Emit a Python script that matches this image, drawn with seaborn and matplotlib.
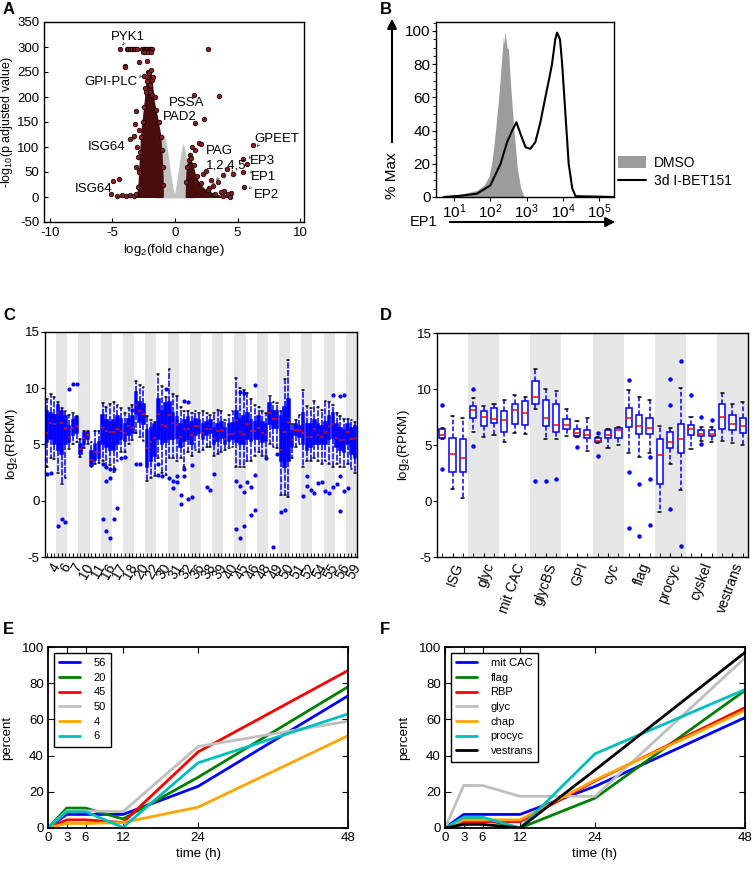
import numpy as np
import pandas as pd
import matplotlib
matplotlib.use("Agg")
import matplotlib.pyplot as plt
import seaborn as sns
from matplotlib.patches import Patch
from matplotlib.lines import Line2D
from matplotlib.ticker import MultipleLocator, LogLocator, NullFormatter

# ======================= DATA =======================
# ---- Panel A (volcano) ----
A_gray_x = [-1.6, -1.5, -1.35, -1.15, -0.95, -0.75, -0.55, -0.35, -0.15, 0.0, 0.15, 0.3, 0.5, 0.65, 0.8, 1.0, 1.2, 1.45, 1.6]
A_gray_y = [-3, 5, 70, 115, 127, 118, 92, 55, 22, 5, 25, 50, 85, 105, 100, 70, 30, 5, -3]
A_left_x = [-4.6, -3.5, -3.0, -2.9, -2.8, -2.7, -2.55, -2.4, -2.3, -2.15, -1.9, -1.75, -1.6, -1.35, -1.1, -0.97, -0.9, -0.88, -0.9]
A_left_y = [-2, 2, 6, 30, 80, 125, 160, 195, 225, 250, 250, 225, 190, 160, 125, 80, 40, 5, -2]
A_right_x = [0.85, 0.88, 0.95, 1.1, 1.3, 1.5, 1.7, 2.0, 2.4, 3.0, 3.6, 4.2, 4.3]
A_right_y = [-2, 30, 62, 74, 76, 62, 42, 27, 16, 8, 3, 1, -2]
A_pts_x = [-4.35, -3.85, -3.75, -3.6, -3.45, -3.3, -3.2, -3.05, -2.6, -2.5, -2.4, -2.3, -2.2, -2.1, -2.0, -1.9, -1.8,
           -2.55, -2.35, -2.15, -1.95, 2.65,
           -4.0, -3.95, -2.9, -2.25, -2.5, -2.15, -2.05, -1.95, -2.2, -2.0, -2.35, -1.85, -2.0, -1.8,
           -3.1, -3.15, -3.6, -3.25, -2.9, -3.0, -2.95, -3.1, -2.85, -4.5, -4.95, -5.1, -4.6, -4.2, -3.9, -3.6, -3.3, -3.1,
           1.55, 3.5, 1.6, 2.3, 1.9, 2.05, 1.6, 1.2, 1.4,
           6.25, 5.4, 5.75, 5.4, 5.5, 4.6, 4.15, 3.4, 3.0, 2.25, 2.5, 3.8, 3.9, 4.5, 4.2, 3.7, 2.7, 2.9,
           -2.95, -2.85, -2.78, -2.68, -2.58, -2.45, -2.33, -2.22, -1.72, -1.62, -1.48, -1.28, -1.12, -1.02, -0.96, -0.92,
           0.9, 0.96, 1.12, 1.32, 1.52, 1.76, 2.1, 2.6, 3.2, 3.8, 4.4]
A_pts_y = [297, 297, 297, 297, 297, 297, 297, 297, 297, 297, 297, 297, 297, 297, 297, 297, 297,
           291, 291, 291, 291, 297,
           262, 260, 271, 273, 243, 250, 248, 255, 232, 225, 218, 235, 210, 205,
           173, 147, 117, 122, 135, 100, 80, 60, 55, 37, 33, 7, 3, 4, 2, 5, 3, 6,
           205, 203, 148, 157, 109, 107, 95, 85, 100,
           105, 76, 67, 50, 20, 47, 57, 30, 23, 47, 52, 45, 12, 8, 6, 10, 18, 35,
           20, 50, 90, 120, 150, 180, 210, 240, 240, 200, 175, 150, 120, 95, 60, 25,
           30, 60, 75, 78, 65, 42, 28, 15, 7, 3, 1]
A_labels = ['PYK1', 'GPI-PLC', 'PSSA', 'PAD2', 'ISG64', 'ISG64', 'GPEET', 'PAG', '1,2,4,5', 'EP3', 'EP1', 'EP2']
A_label_x = [-3.78, -5.07, 0.91, 0.37, -5.46, -6.49, 8.12, 3.55, 4.07, 6.95, 7.03, 7.34]
A_label_y = [320, 230, 188, 160, 100, 17, 117, 91, 62, 73, 40, 5]
A_arrow_x = [-4.2, -2.85, -3.45, -4.45, 1.45, 6.55, 5.9, 6.0, 5.9, 3.3, 3.85, 2.95, 4.5]
A_arrow_y = [303, 238, 112, 32, 143, 100, 76, 47, 15, 33, 42, 24, 47]

# ---- Panel B (flow histogram) ----
B_dmso_log10 = [0.55, 0.67, 1.17, 1.63, 1.82, 1.96, 2.05, 2.14, 2.23, 2.30, 2.33, 2.36, 2.38, 2.40, 2.43, 2.46, 2.50, 2.55, 2.65, 2.74, 2.83, 2.92, 3.0]
B_dmso_y = [0, 0.5, 1.6, 4, 7, 12, 22, 40, 60, 80, 88, 97, 92, 100, 95, 90, 89, 70, 40, 18, 6, 0.5, 0]
B_ibet_log10 = [0.72, 1.2, 1.63, 2.00, 2.28, 2.46, 2.60, 2.72, 2.83, 2.97, 3.10, 3.24, 3.38, 3.47, 3.61, 3.70, 3.79, 3.84, 3.92, 3.98, 4.07, 4.16, 4.26, 4.35, 5.42]
B_ibet_y = [0, 0.8, 2, 7, 20, 33, 40, 45, 38, 30, 29, 33, 45, 55, 70, 80, 95, 99, 95, 80, 50, 20, 5, 0.5, 0]
B_edge_log10 = 0.51
B_edge_h = 76
B_labels = ['DMSO', '3d I-BET151']

# ---- Panel C (boxplots by cluster, 3 time points each) ----
C_groups = ['4', '6', '7', '10', '11', '16', '17', '18', '20', '22', '30', '31', '32', '36', '38', '39',
            '40', '45', '46', '48', '49', '50', '51', '52', '54', '55', '56', '59']
C_med = [6.0, 6.9, 6.8, 7.8, 6.9, 6.5, 5.7, 6.5, 6.6, 4.6, 5.6, 5.8, 3.6, 4.3, 4.3, 6.5, 6.2, 6.1,
         6.1, 6.4, 6.2, 6.0, 6.6, 6.5, 8.5, 8.0, 7.7, 4.7, 5.2, 5.6, 7.7, 6.7, 6.6, 7.6, 6.9, 6.7,
         5.7, 6.4, 6.4, 5.8, 6.6, 6.6, 6.0, 6.4, 6.4, 5.5, 6.2, 6.3, 5.5, 5.9, 5.9, 7.2, 6.1, 5.9,
         6.8, 6.2, 6.2, 6.5, 6.0, 5.8, 7.8, 7.3, 7.3, 4.5, 6.1, 7.0, 5.4, 6.3, 6.3, 6.0, 5.7, 5.7,
         6.4, 5.8, 5.7, 6.1, 6.6, 6.8, 5.6, 5.4, 5.4, 6.1, 5.5, 5.6]
C_q1 = [5.2, 5.5, 5.0, 4.5, 4.2, 5.0, 5.2, 5.8, 6.0, 4.2, 5.0, 5.5, 3.1, 3.6, 3.8, 5.0, 4.8, 4.5,
        4.5, 5.0, 5.5, 5.3, 5.8, 6.0, 7.7, 7.0, 6.8, 3.0, 3.5, 4.0, 5.5, 5.0, 5.2, 5.5, 5.5, 5.6,
        4.8, 5.3, 5.5, 5.0, 5.8, 6.0, 5.5, 5.8, 6.0, 5.0, 5.3, 5.6, 5.0, 5.3, 5.5, 5.2, 5.0, 5.0,
        5.5, 5.3, 5.5, 5.5, 5.2, 5.3, 6.8, 6.5, 6.5, 3.5, 3.0, 3.5, 4.8, 5.8, 5.7, 5.0, 4.5, 4.8,
        5.0, 5.0, 5.0, 5.0, 5.5, 5.6, 4.8, 4.5, 4.3, 5.0, 4.2, 3.8]
C_q3 = [8.0, 7.8, 7.6, 8.5, 8.0, 7.5, 6.6, 7.2, 7.4, 5.0, 6.0, 6.1, 4.4, 5.0, 5.2, 7.6, 7.2, 7.0,
        7.2, 7.5, 7.3, 6.8, 7.3, 7.5, 9.7, 8.8, 8.6, 6.3, 6.5, 6.8, 9.0, 8.0, 8.7, 8.8, 7.8, 7.4,
        6.8, 7.2, 7.4, 7.0, 7.3, 7.2, 6.8, 7.0, 7.2, 6.5, 6.8, 7.0, 6.5, 6.8, 6.9, 8.0, 7.3, 7.5,
        7.8, 7.2, 7.0, 7.5, 7.0, 6.8, 8.7, 8.0, 8.0, 7.5, 8.3, 9.0, 6.2, 6.8, 6.6, 7.8, 6.8, 6.8,
        7.2, 6.8, 6.6, 7.0, 7.5, 7.8, 6.8, 6.5, 6.3, 6.8, 6.5, 6.6]
C_lo = [3.0, 3.8, 3.7, 2.5, 1.5, 2.0, 4.6, 5.0, 5.2, 3.9, 4.7, 5.0, 3.0, 3.3, 3.4, 3.5, 3.0, 3.2,
        2.6, 3.5, 4.3, 4.3, 5.0, 5.4, 6.0, 5.7, 5.3, 1.8, 2.0, 2.2, 3.8, 2.5, 2.3, 3.8, 3.8, 3.5,
        3.8, 3.0, 4.3, 4.0, 4.5, 4.3, 4.5, 4.8, 4.8, 4.0, 4.2, 4.3, 4.5, 4.7, 4.8, 3.0, 3.0, 3.0,
        3.5, 3.5, 4.0, 4.3, 4.0, 4.0, 5.0, 4.8, 4.7, 0.5, 0.5, 0.3, 3.8, 4.8, 5.0, 3.0, 3.5, 3.5,
        3.8, 3.5, 3.3, 3.5, 3.3, 3.0, 3.3, 3.0, 3.0, 3.3, 2.8, 2.5]
C_hi = [9.0, 9.5, 9.2, 8.8, 8.2, 8.0, 7.6, 7.8, 7.5, 5.5, 6.2, 6.2, 5.2, 6.2, 6.2, 8.7, 8.3, 8.6,
        8.8, 8.5, 8.2, 7.8, 8.2, 8.5, 10.6, 10.3, 10.1, 7.5, 7.2, 7.0, 11.3, 10.2, 9.2, 11.7, 9.5, 9.3,
        8.3, 8.0, 8.0, 7.8, 8.0, 7.8, 8.0, 7.8, 7.6, 7.8, 8.1, 8.0, 7.2, 7.6, 8.0, 10.9, 10.0, 9.8,
        9.6, 9.0, 8.5, 8.3, 8.0, 7.8, 9.3, 8.8, 8.7, 8.0, 10.8, 12.5, 6.8, 7.2, 7.6, 9.8, 8.4, 8.2,
        8.9, 8.3, 8.1, 8.9, 8.8, 8.5, 7.8, 7.5, 7.3, 7.3, 7.2, 7.0]
C_out_idx = [0, 1, 3, 4, 5, 6, 7, 8, 15, 15, 16, 16, 16, 17, 17, 17, 18, 18, 19, 20, 21, 23,
             24, 25, 30, 30, 31, 32, 33, 34, 34, 35, 35, 36, 36, 37, 37, 38, 37, 38, 39, 39, 43, 44, 45,
             51, 51, 52, 52, 53, 53, 53, 52, 54, 55, 55, 56, 56, 56, 59, 61, 62, 63, 64,
             69, 70, 71, 70, 72, 73, 74, 75, 76, 77, 77, 78, 79, 79, 79, 80, 80, 81]
C_out_val = [2.4, 2.5, -2.2, -1.6, -1.9, 9.9, 10.4, 10.4, 3.3, -1.6, 1.8, -2.7, 3.0, 2.0, -3.3, 2.8, -1.6, 2.8, -0.6, 3.8, 3.9, 8.1,
             3.3, 3.3, 3.3, 2.3, 2.2, 9.9, 2.0, 1.8, 1.1, 1.7, 2.2, 0.5, -0.3, 2.8, 2.2, 0.2, 8.9, 8.8, 3.2, 0.3, 1.2, 1.0, 2.4,
             1.8, -2.5, 1.3, -3.3, 0.8, -2.2, 9.6, 9.7, 1.7, 1.2, -1.3, -0.8, 10.3, 2.3, 3.8, -4.1, 4.2, -1.0, -0.8,
             0.4, 1.3, 1.0, 2.2, 0.7, 1.6, 1.7, 0.9, 0.7, 1.2, 9.4, 1.5, -0.9, 2.2, 9.3, 9.4, 0.9, 1.1]

# ---- Panel D (boxplots by functional category) ----
D_groups = ['ISG', 'glyc', 'mit CAC', 'glycBS', 'GPI', 'cyc', 'flag', 'procyc', 'cyskel', 'vestrans']
D_med = [5.9, 4.2, 3.8, 8.1, 7.5, 7.3, 7.2, 8.1, 7.9, 9.3, 7.4, 6.8, 6.8, 6.1, 5.9,
         5.4, 5.9, 6.3, 7.4, 6.7, 6.5, 4.1, 5.3, 5.5, 6.4, 6.0, 6.0, 7.5, 6.9, 6.7]
D_q1 = [5.6, 2.6, 2.6, 7.4, 6.7, 7.0, 6.2, 6.9, 6.8, 8.7, 6.7, 6.2, 6.4, 5.8, 5.6,
        5.3, 5.6, 5.6, 6.6, 6.0, 6.0, 1.5, 4.7, 4.3, 5.9, 5.8, 5.8, 6.4, 6.3, 6.1]
D_q3 = [6.4, 5.6, 5.5, 8.5, 8.0, 8.3, 8.0, 8.7, 8.9, 10.7, 9.0, 8.7, 7.3, 6.4, 6.3,
        5.6, 6.3, 6.5, 8.3, 7.7, 7.4, 5.5, 6.2, 6.9, 6.8, 6.3, 6.3, 8.7, 7.7, 7.4]
D_lo = [5.5, 1.1, 0.3, 6.2, 5.7, 5.9, 5.3, 6.1, 6.0, 8.2, 5.5, 5.5, 5.8, 5.7, 4.5,
        5.2, 4.7, 5.0, 4.3, 3.9, 4.3, -1.0, 3.3, 1.0, 4.6, 5.4, 5.3, 5.4, 5.2, 5.0]
D_hi = [6.5, 7.6, 7.4, 9.2, 8.5, 8.7, 9.0, 9.5, 9.3, 11.8, 10.0, 9.8, 8.2, 7.1, 7.4,
        5.7, 6.4, 6.6, 9.9, 9.3, 9.0, 6.7, 6.5, 10.1, 7.5, 6.6, 6.6, 9.6, 8.7, 8.8]
D_out_idx = [0, 0, 3, 3, 9, 10, 11, 13, 15, 15, 18, 18, 18, 19, 19, 20, 20, 20,
             22, 22, 22, 23, 23, 24, 25, 25, 26]
D_out_val = [8.6, 2.9, 10.0, 4.9, 1.8, 1.8, 2.0, 4.8, 6.1, 4.0, 10.8, 2.6, -2.4, 1.5, -3.1, 3.9, 2.0, -2.1,
             10.9, 8.6, -0.7, 12.5, -4.0, 9.5, 7.5, 5.1, 7.2]

# ---- Panels E, F (time courses) ----
times = [0, 3, 6, 12, 24, 48]
E_names = ['56', '20', '45', '50', '4', '6']
E_56 = [0, 7.5, 7.5, 7.5, 23, 73]
E_20 = [0, 11, 11, 5, 28, 78]
E_45 = [0, 4.5, 4.5, 3, 42, 87]
E_50 = [0, 9.5, 9.5, 9, 45, 59]
E_4 = [0, 2.5, 2.5, 3, 11.5, 51]
E_6 = [0, 9, 9, 0.3, 36, 63]
F_names = ['mit CAC', 'flag', 'RBP', 'glyc', 'chap', 'procyc', 'vestrans']
F_mitCAC = [0, 7.5, 7.5, 7.5, 23, 61]
F_flag = [0, 5, 5, 0, 16.5, 76]
F_RBP = [0, 3.5, 3.5, 3.5, 26, 66.5]
F_glyc = [0, 23.5, 23.5, 17.5, 17.5, 94]
F_chap = [0, 4.5, 4.5, 4.5, 26.5, 65]
F_procyc = [0, 6, 6, 0, 41, 76.5]
F_vestrans = [0, 2, 2, 0, 32, 97]

E_colors = ['#0000ff', '#008000', '#ff0000', '#bfbfbf', '#ffa500', '#00bfbf']
F_colors = ['#0000ff', '#008000', '#ff0000', '#bfbfbf', '#ffa500', '#00bfbf', '#000000']

# ======================= STYLE =======================
sns.set_style("ticks")
plt.rcParams.update({
    'font.family': ['Liberation Sans', 'DejaVu Sans'],
    'mathtext.fontset': 'custom',
    'mathtext.rm': 'Liberation Sans',
    'mathtext.default': 'regular',
    'axes.unicode_minus': False,
    'axes.edgecolor': 'black',
    'axes.linewidth': 1.0,
    'xtick.color': 'black',
    'ytick.color': 'black',
    'text.color': 'black',
    'axes.labelcolor': 'black',
})

W, H = 754, 869
fig = plt.figure(figsize=(W / 100, H / 100), dpi=100)


def add_ax(l, t, r, b):
    return fig.add_axes([l / W, 1 - b / H, (r - l) / W, (b - t) / H])


def letter(x, y, s):
    fig.text(x / W, 1 - y / H, s, fontsize=12, fontweight='bold', ha='left', va='center')


# ======================= PANEL A =======================
axA = add_ax(44, 22, 304, 222)
axA.fill(A_gray_x, A_gray_y, color='#c2c2c2', lw=0, zorder=1)
axA.fill(A_left_x, A_left_y, color='#4a0d0d', lw=0, zorder=2)
axA.fill(A_right_x, A_right_y, color='#4a0d0d', lw=0, zorder=2)
sns.scatterplot(x=A_pts_x, y=A_pts_y, ax=axA, s=11, color='#8b1a1a', edgecolor='black',
                linewidth=0.5, zorder=3, legend=False)
for s, x, y in zip(A_labels, A_label_x, A_label_y):
    axA.text(x, y, s, fontsize=9.5, ha='center', va='center', zorder=5)
for x, y in zip(A_arrow_x, A_arrow_y):
    axA.annotate('', xy=(x - 0.12, y - 4), xytext=(x + 0.15, y + 5),
                 arrowprops=dict(arrowstyle='->', lw=0.5, color='#333333', mutation_scale=4))
axA.set_xlim(-10.45, 10.3)
axA.set_ylim(-50, 350)
axA.set_xticks([-10, -5, 0, 5, 10])
axA.set_yticks(list(range(-50, 351, 50)))
axA.tick_params(direction='in', length=3, labelsize=9.5, top=False, right=False)
axA.set_xlabel('log$_2$(fold change)', fontsize=9.5, labelpad=2)
axA.set_ylabel('-log$_{10}$(p adjusted value)', fontsize=9, labelpad=1)
letter(3, 9, 'A')

# ======================= PANEL B =======================
axB = add_ax(436, 22, 614, 197)
axB.set_xscale('log')
axB.fill_between(10 ** np.array(B_dmso_log10), B_dmso_y, color='#9c9c9c', lw=0)
sns.lineplot(x=10 ** np.array(B_ibet_log10), y=B_ibet_y, ax=axB, color='black', lw=1.5,
             estimator=None, sort=False)
axB.plot([10 ** B_edge_log10] * 2, [0, B_edge_h], color='black', lw=1.5)
axB.set_xlim(10 ** 0.5, 10 ** 5.41)
axB.set_ylim(0, 105.4)
axB.set_xticks([1e1, 1e2, 1e3, 1e4, 1e5], ['$10^1$', '$10^2$', '$10^3$', '$10^4$', '$10^5$'])
axB.xaxis.set_minor_locator(LogLocator(base=10, subs=np.arange(2, 10)))
axB.xaxis.set_minor_formatter(NullFormatter())
axB.set_yticks([0, 20, 40, 60, 80, 100])
axB.yaxis.set_minor_locator(MultipleLocator(5))
axB.tick_params(which='major', direction='out', length=3, labelsize=11, pad=1)
axB.tick_params(which='minor', direction='out', length=2)
fig.text(392 / W, 1 - 176 / H, '% Max', rotation=90, fontsize=11, ha='center', va='center')
fig.text(424 / W, 1 - 222 / H, 'EP1', fontsize=10.5, ha='center', va='center')
fig.add_artist(matplotlib.patches.FancyArrowPatch((392 / W, 1 - 145 / H), (392 / W, 1 - 16 / H),
                                                  transform=fig.transFigure, arrowstyle='-|>',
                                                  mutation_scale=14, lw=1.5, color='black'))
fig.add_artist(matplotlib.patches.FancyArrowPatch((447 / W, 1 - 222 / H), (618 / W, 1 - 222 / H),
                                                  transform=fig.transFigure, arrowstyle='-|>',
                                                  mutation_scale=14, lw=1.5, color='black'))
handlesB = [Patch(facecolor='#9c9c9c', edgecolor='none'), Line2D([0], [0], color='black', lw=1.5)]
fig.legend(handlesB, B_labels, loc='center left', bbox_to_anchor=(618 / W, 1 - 172 / H),
           frameon=False, fontsize=10, handlelength=2.0, handleheight=0.9, handletextpad=0.6,
           borderpad=0, borderaxespad=0, labelspacing=0.3)
letter(380, 9, 'B')


# ======================= BOX HELPERS =======================
def make_stats(med, q1, q3, lo, hi, oidx, oval):
    stats = []
    for i in range(len(med)):
        fl = [v for j, v in zip(oidx, oval) if j == i]
        stats.append(dict(med=med[i], q1=q1[i], q3=q3[i], whislo=lo[i], whishi=hi[i], fliers=fl))
    return stats


def box_panel(ax, stats, groups, fill, width, capw, labrot, labsize, msize, wls):
    n = len(stats)
    for g in range(len(groups)):
        if g % 2 == 1:
            ax.axvspan(3 * g, 3 * g + 3, color='#e6e6e6', lw=0, zorder=0)
    ax.bxp(stats, positions=np.arange(n) + 0.5, widths=width, capwidths=capw, patch_artist=True,
           boxprops=dict(facecolor=fill, edgecolor='#0000ff', lw=1.1),
           medianprops=dict(color='red', lw=1.1),
           whiskerprops=dict(color='#0000ff', ls=wls, lw=1.1),
           capprops=dict(color='black', lw=1.1),
           flierprops=dict(marker='o', markerfacecolor='#0000ff', markeredgecolor='#0000ff',
                           markersize=msize, ls='none'),
           manage_ticks=False, zorder=3)
    ax.set_xlim(0, n)
    ax.set_ylim(-5, 15)
    ax.set_yticks([-5, 0, 5, 10, 15])
    ax.set_xticks(np.arange(len(groups)) * 3 + 1.5, groups, rotation=labrot, ha='right',
                  rotation_mode='anchor', fontsize=labsize)
    ax.set_xticks(np.arange(n) + 0.5, minor=True)
    ax.tick_params(axis='x', which='both', direction='in', length=3, pad=3)
    ax.tick_params(axis='y', direction='out', length=3, labelsize=9.5, pad=1)
    ax.set_ylabel('log$_2$(RPKM)', fontsize=9.5, labelpad=3)
    for sp in ax.spines.values():
        sp.set_zorder(5)


# ======================= PANEL C =======================
axC = add_ax(45, 332, 357, 557)
statsC = make_stats(C_med, C_q1, C_q3, C_lo, C_hi, C_out_idx, C_out_val)
box_panel(axC, statsC, C_groups, '#0000ff', 0.7, 0.5, 60, 10, 2, (0, (4, 1)))
letter(3, 316, 'C')

# ======================= PANEL D =======================
axD = add_ax(437, 333, 748, 557)
statsD = make_stats(D_med, D_q1, D_q3, D_lo, D_hi, D_out_idx, D_out_val)
box_panel(axD, statsD, D_groups, 'white', 0.6, 0.3, 70, 10, 2.2, (0, (3, 1.5)))
letter(380, 316, 'D')


# ======================= PANELS E, F =======================
def time_panel(ax, names, series, colors):
    rows = []
    for nm, vals in zip(names, series):
        for t, v in zip(times, vals):
            rows.append(dict(time=t, percent=v, series=nm))
    df = pd.DataFrame(rows)
    sns.lineplot(data=df, x='time', y='percent', hue='series', hue_order=names,
                 palette=colors, lw=2, ax=ax, legend=False, estimator=None)
    ax.set_xlim(0, 48)
    ax.set_ylim(0, 100)
    ax.set_xticks(times)
    ax.set_yticks([0, 20, 40, 60, 80, 100])
    ax.tick_params(direction='in', length=4, top=True, right=True, labelsize=9.5, pad=3)
    ax.set_xlabel('time (h)', fontsize=9.5, labelpad=3)
    ax.set_ylabel('percent', fontsize=9.5, labelpad=6)
    for sp in ax.spines.values():
        sp.set_linewidth(1.3)
    handles = [Line2D([0], [0], color=c, lw=2) for c in colors]
    leg = ax.legend(handles, names, loc='upper left', fontsize=8, frameon=True, fancybox=False,
                    framealpha=1, edgecolor='black', handlelength=1.9, handletextpad=1.2,
                    labelspacing=0.42, borderpad=0.5, borderaxespad=0.5)
    leg.get_frame().set_linewidth(1.0)


axE = add_ax(48, 647, 348, 828)
time_panel(axE, E_names, [E_56, E_20, E_45, E_50, E_4, E_6], E_colors)
letter(3, 630, 'E')

axF = add_ax(445, 647, 745, 828)
time_panel(axF, F_names, [F_mitCAC, F_flag, F_RBP, F_glyc, F_chap, F_procyc, F_vestrans], F_colors)
letter(380, 630, 'F')

fig.savefig('out.png', dpi=100)
